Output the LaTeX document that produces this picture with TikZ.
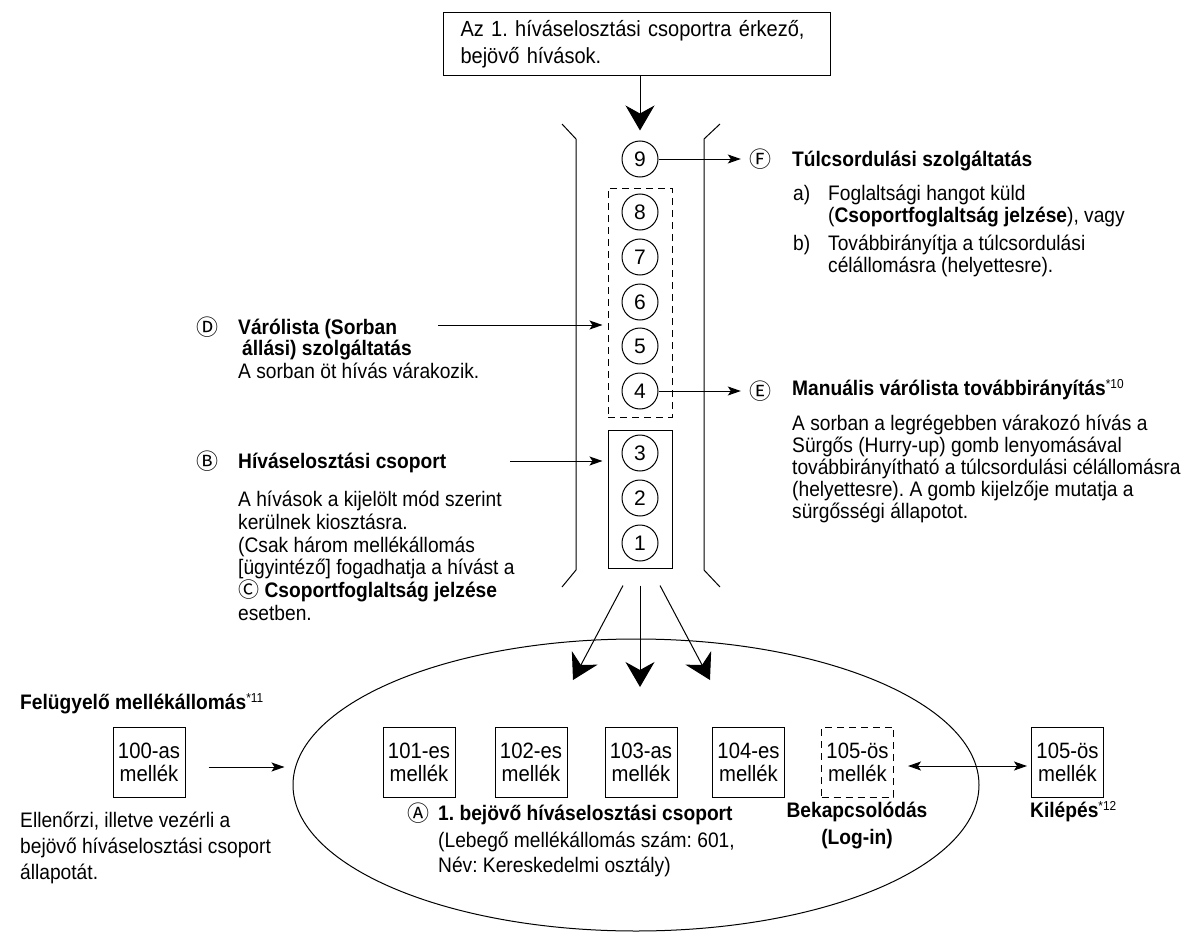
\documentclass[tikz,border=0pt]{standalone}
\usepackage{fontspec}
\setmainfont{Liberation Sans}[FakeStretch=0.914]
\newfontfamily\digitfont{Liberation Sans}
\newfontfamily\symfont{Noto Sans CJK JP}
\usetikzlibrary{arrows.meta,shapes.geometric}
\newcommand\fnref[1]{\raisebox{7pt}{\fontsize{13}{13}\selectfont #1}}
\newcommand\cl[1]{{\symfont\fontsize{21}{21}\selectfont #1}}
\frenchspacing
\begin{document}
\begin{tikzpicture}[x=1pt,y=-1pt,
  every node/.style={inner sep=0pt, font=\fontsize{21}{22}\selectfont},
  txt/.style={anchor=base west, align=left},
  num/.style={draw, circle, minimum size=36pt, line width=1pt, font=\digitfont\fontsize{21}{21}\selectfont},
  ext/.style={draw, line width=1pt, minimum width=72pt, minimum height=70pt, align=center, font=\fontsize{22.2}{23}\selectfont},
  letter/.style={font=\symfont\fontsize{22}{22}\selectfont},
  frame/.style={line width=1pt},
  dashframe/.style={line width=1pt, dash pattern=on 7pt off 5pt},
  conn/.style={line width=1pt, -{Stealth[length=13pt,width=9pt,inset=3pt]}},
  both/.style={line width=1pt, {Stealth[length=13pt,width=9pt,inset=3pt]}-{Stealth[length=13pt,width=9pt,inset=3pt]}},
  big/.style={line width=1pt, -{Stealth[length=25pt,width=29pt,inset=8pt]}},
]
\useasboundingbox (0,0) rectangle (1192,934);

% incoming calls
\node[draw, frame, minimum width=387pt, minimum height=63pt, text width=352pt, align=left,
      font=\fontsize{21.9}{27}\selectfont] (top) at (636.5,44.5)
  {\raisebox{-3pt}{Az 1. híváselosztási csoportra érkező,}\\\raisebox{-3pt}{bejövő hívások.}};

% the channel walls
\draw[frame] (562,124) -- (576,139) -- (576,570) -- (562,587);
\draw[frame] (720,124) -- (704,139) -- (704,570) -- (720,587);

% queue positions
\node[num] (c9) at (640,159) {9};
\node[num] (c8) at (640,212) {8};
\node[num] (c7) at (640,257) {7};
\node[num] (c6) at (640,302) {6};
\node[num] (c5) at (640,346) {5};
\node[num] (c4) at (640,391) {4};
\node[num] (c3) at (640,453) {3};
\node[num] (c2) at (640,498) {2};
\node[num] (c1) at (640,543) {1};
\node[draw, dashframe, minimum width=64pt, minimum height=229pt] (queue) at (640,302.5) {};
\node[draw, frame, minimum width=64pt, minimum height=138pt] (serve) at (640,499) {};

\draw[big, shorten >=10pt] (top.south -| c9) -- (c9.north);

% F: overflow (multi-line nodes sit on the baseline of their last line)
\node[letter] (mF) at (760,159) {Ⓕ};
\draw[conn, shorten >=8pt] (c9.east) -- (mF.west);
\node[txt] (tF) at (792,166.5) {\bfseries Túlcsordulási szolgáltatás};
\node[txt] (fa) at (793,200) {a)};
\node[txt] (fat) at (828,222) {Foglaltsági hangot küld\\(\textbf{Csoportfoglaltság jelzése}), vagy};
\node[txt] (fb) at (793,250) {b)};
\node[txt] (fbt) at (828,272) {Továbbirányítja a túlcsordulási\\célállomásra (helyettesre).};

% E: manual queue redirection
\node[letter] (mE) at (760,391) {Ⓔ};
\draw[conn, shorten >=8pt] (c4.east) -- (mE.west);
\node[txt] (tE) at (792,395) {\textbf{Manuális várólista továbbirányítás}\fnref{*10}};
\node[txt] (bE) at (792,518.5) {A sorban a legrégebben várakozó hívás a\\Sürgős (Hurry-up) gomb lenyomásával\\továbbirányítható a túlcsordulási célállomásra\\(helyettesre). A gomb kijelzője mutatja a\\sürgősségi állapotot.};

% D: queuing
\node[letter] (mD) at (207,327) {Ⓓ};
\node[txt, font=\fontsize{21}{21}\selectfont\bfseries] (tD) at (238,355) {Várólista (Sorban\\\hspace{4pt}állási) szolgáltatás};
\node[txt] (bD) at (238,378) {A sorban öt hívás várakozik.};
\coordinate (dA) at (438,325);
\draw[conn, shorten >=5pt] (dA) -- (dA -| queue.west);

% B: distribution group
\node[letter] (mB) at (207,461) {Ⓑ};
\node[txt] (tB) at (238,468.5) {\bfseries Híváselosztási csoport};
\node[txt, font=\fontsize{21}{22.8}\selectfont] (bB) at (238,620.5) {A hívások a kijelölt mód szerint\\kerülnek kiosztásra.\\(Csak három mellékállomás\\{[}ügyintéző{]} fogadhatja a hívást a\\\cl{Ⓒ} \textbf{Csoportfoglaltság jelzése}\\esetben.};
\coordinate (bA) at (510,461);
\draw[conn, shorten >=5pt] (bA) -- (bA -| serve.west);

% the group itself
\node[draw, frame, ellipse, minimum width=686pt, minimum height=292pt] (grp) at (636,785) {};
\node[ext] (m101) at (419,762) {101-es\\mellék};
\node[ext] (m102) at (531,762) {102-es\\mellék};
\node[ext] (m103) at (641,762) {103-as\\mellék};
\node[ext] (m104) at (748.5,762) {104-es\\mellék};
\node[ext, dashframe] (m105in) at (857.5,762) {105-ös\\mellék};
\node[ext] (m105out) at (1067.5,762) {105-ös\\mellék};

% distribution to the extensions
\coordinate (t1) at (573,680);
\coordinate (t2) at (640,687);
\coordinate (t3) at (710,680);
\draw[big] ([xshift=-17pt,yshift=-17pt]serve.south) -- (t1);
\draw[big] ([yshift=-17pt]serve.south) -- (t2);
\draw[big] ([xshift=20pt,yshift=-17pt]serve.south) -- (t3);

% supervisor
\node[txt] (tS) at (20,709.5) {\textbf{Felügyelő mellékállomás}\fnref{*11}};
\node[ext] (m100) at (149,762) {100-as\\mellék};
\node[txt, font=\fontsize{21}{26}\selectfont] (bS) at (20,879.5) {Ellenőrzi, illetve vezérli a\\bejövő híváselosztási csoport\\állapotát.};
\draw[conn, shorten <=23pt, shorten >=8pt] ([yshift=-5pt]m100.east) -- ([yshift=-5pt]m100.east -| grp.west);

% log-in / log-out
\draw[both, shorten <=14pt, shorten >=4pt] ([yshift=-4pt]m105in.east) -- ([yshift=-4pt]m105out.west);
\node[align=center, anchor=base, font=\fontsize{21}{27}\selectfont\bfseries] (lin) at (857,844.5) {Bekapcsolódás\\(Log-in)};
\node[txt] (lout) at (1030,817.5) {\textbf{Kilépés}\fnref{*12}};

% A: group caption
\node[letter] (mA) at (418,813) {Ⓐ};
\node[txt] (tA) at (438,820.5) {\bfseries 1. bejövő híváselosztási csoport};
\node[txt, font=\fontsize{21}{25}\selectfont] (bA2) at (438,872.5) {(Lebegő mellékállomás szám: 601,\\Név: Kereskedelmi osztály)};
\end{tikzpicture}
\end{document}
